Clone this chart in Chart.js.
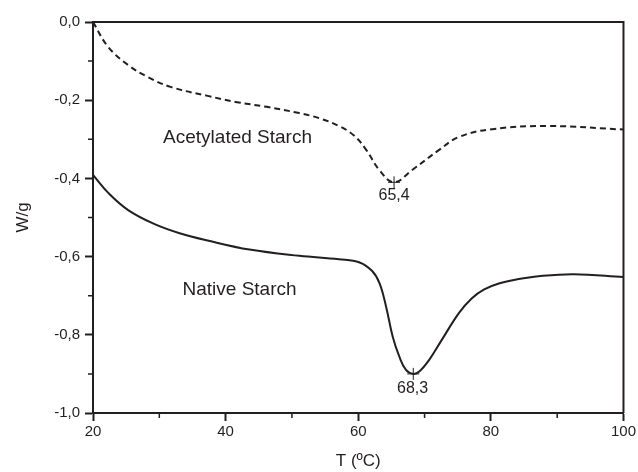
<!DOCTYPE html>
<html>
<head>
<meta charset="utf-8">
<script src="https://cdn.jsdelivr.net/npm/chart.js@4.4.0/dist/chart.umd.min.js"></script>
<style>
  html, body { margin: 0; padding: 0; background: #fff; }
  #wrap { width: 638px; height: 472px; }
</style>
</head>
<body>
<div id="wrap"><canvas id="myChart" width="638" height="472"></canvas></div>
<script>
// acetylated starch (dashed)
var tempAcet = [20, 22.3, 25.3, 28.3, 31.7, 37.3, 41.7, 46.2, 51.1, 54.1, 57.1, 59.4, 61.2, 63.2, 65.4, 68.1, 72.2, 75.2, 80.2, 88.7, 100];
var wAcet = [0.0, -0.064, -0.110, -0.141, -0.166, -0.189, -0.205, -0.217, -0.233, -0.246, -0.266, -0.291, -0.327, -0.379, -0.41, -0.379, -0.327, -0.294, -0.274, -0.266, -0.275];
// native starch (solid)
var tempNative = [20, 22.3, 25.3, 29.3, 33.2, 37.3, 43.6, 51.1, 57.1, 60.2, 62.1, 63.2, 64.2, 65.2, 66.2, 67.2, 68.3, 69.2, 70.7, 72.6, 75.2, 77.1, 79.0, 81.2, 84.0, 87.2, 92.5, 100];
var wNative = [-0.391, -0.437, -0.481, -0.517, -0.541, -0.559, -0.582, -0.598, -0.607, -0.615, -0.637, -0.668, -0.728, -0.805, -0.856, -0.89, -0.9, -0.894, -0.864, -0.813, -0.744, -0.707, -0.684, -0.669, -0.658, -0.65, -0.645, -0.652];
// peaks
var peakT = [65.4, 68.3];
var peakW = [-0.41, -0.9];
// text labels
var noteText = ['Acetylated Starch', 'Native Starch', '65,4', '68,3'];
var noteX = [41.8, 42.1, 65.4, 68.2];
var noteY = [-0.297, -0.685, -0.445, -0.937];
var noteSize = [19, 19, 16, 16];

var xMinor = [30, 50, 70, 90];
var yMinor = [-0.1, -0.3, -0.5, -0.7, -0.9];

var ink = '#231f20';
var fam = '"Liberation Sans", Arial, sans-serif';

function pts(xs, ys) {
    var out = [];
    for (let i = 0; i < xs.length; i++) out.push({ x: xs[i], y: ys[i] });
    return out;
}

var extras = {
    id: 'extras',
    afterDraw: function (chart) {
        var c = chart.ctx, a = chart.chartArea;
        var xs = chart.scales.x, ys = chart.scales.y;
        c.save();
        c.strokeStyle = ink;
        c.lineWidth = 2;
        // frame top/right
        c.beginPath();
        c.moveTo(a.left, a.top); c.lineTo(a.right, a.top); c.lineTo(a.right, a.bottom);
        c.stroke();
        // minor ticks
        c.lineWidth = 1.5;
        c.beginPath();
        xMinor.forEach(function (v) {
            var px = xs.getPixelForValue(v);
            c.moveTo(px, a.bottom); c.lineTo(px, a.bottom + 5);
        });
        yMinor.forEach(function (v) {
            var py = ys.getPixelForValue(v);
            c.moveTo(a.left, py); c.lineTo(a.left - 5, py);
        });
        c.stroke();
        // notes
        c.fillStyle = ink;
        c.textAlign = 'center';
        c.textBaseline = 'middle';
        for (let i = 0; i < noteText.length; i++) {
            c.font = noteSize[i] + 'px ' + fam;
            c.fillText(noteText[i], xs.getPixelForValue(noteX[i]), ys.getPixelForValue(noteY[i]));
        }
        c.restore();
    }
};

var ctx = document.getElementById('myChart');
var chart = new Chart(ctx, {
    type: 'scatter',
    data: {
        datasets: [
            {
                label: 'Acetylated Starch',
                data: pts(tempAcet, wAcet),
                showLine: true,
                borderColor: ink,
                borderWidth: 2,
                borderDash: [6, 4],
                pointRadius: 0,
                tension: 0.4
            },
            {
                label: 'Native Starch',
                data: pts(tempNative, wNative),
                showLine: true,
                borderColor: ink,
                borderWidth: 2,
                pointRadius: 0,
                tension: 0.4
            },
            {
                label: 'peaks',
                data: pts(peakT, peakW),
                showLine: false,
                pointStyle: 'cross',
                pointRadius: 6,
                borderColor: ink,
                borderWidth: 1
            }
        ]
    },
    options: {
        responsive: false,
        animation: false,
        layout: { padding: { top: 22, right: 13, left: 0, bottom: 0 } },
        plugins: {
            legend: { display: false },
            tooltip: { enabled: false }
        },
        scales: {
            x: {
                type: 'linear',
                min: 20,
                max: 100,
                afterFit: function (s) { s.height = 59; },
                ticks: {
                    stepSize: 20,
                    color: ink,
                    padding: 2,
                    maxRotation: 0,
                    font: { family: fam, size: 15 }
                },
                grid: { drawOnChartArea: false, tickLength: 8, tickWidth: 2, tickColor: ink },
                border: { color: ink, width: 2 },
                title: {
                    display: true,
                    text: 'T (ºC)',
                    color: ink,
                    padding: { top: 0, bottom: 0 },
                    font: { family: fam, size: 17 }
                }
            },
            y: {
                min: -1,
                max: 0,
                afterFit: function (s) { s.width = 93; },
                ticks: {
                    stepSize: 0.2,
                    color: ink,
                    padding: 5,
                    font: { family: fam, size: 15 },
                    callback: function (v) { return (Math.abs(v) < 1e-9 ? 0 : v).toFixed(1).replace('.', ','); }
                },
                grid: { drawOnChartArea: false, tickLength: 8, tickWidth: 2, tickColor: ink },
                border: { color: ink, width: 2 },
                title: {
                    display: true,
                    text: 'W/g',
                    color: ink,
                    padding: { top: 13, bottom: 0 },
                    font: { family: fam, size: 17 }
                }
            }
        }
    },
    plugins: [extras]
});
</script>
</body>
</html>
